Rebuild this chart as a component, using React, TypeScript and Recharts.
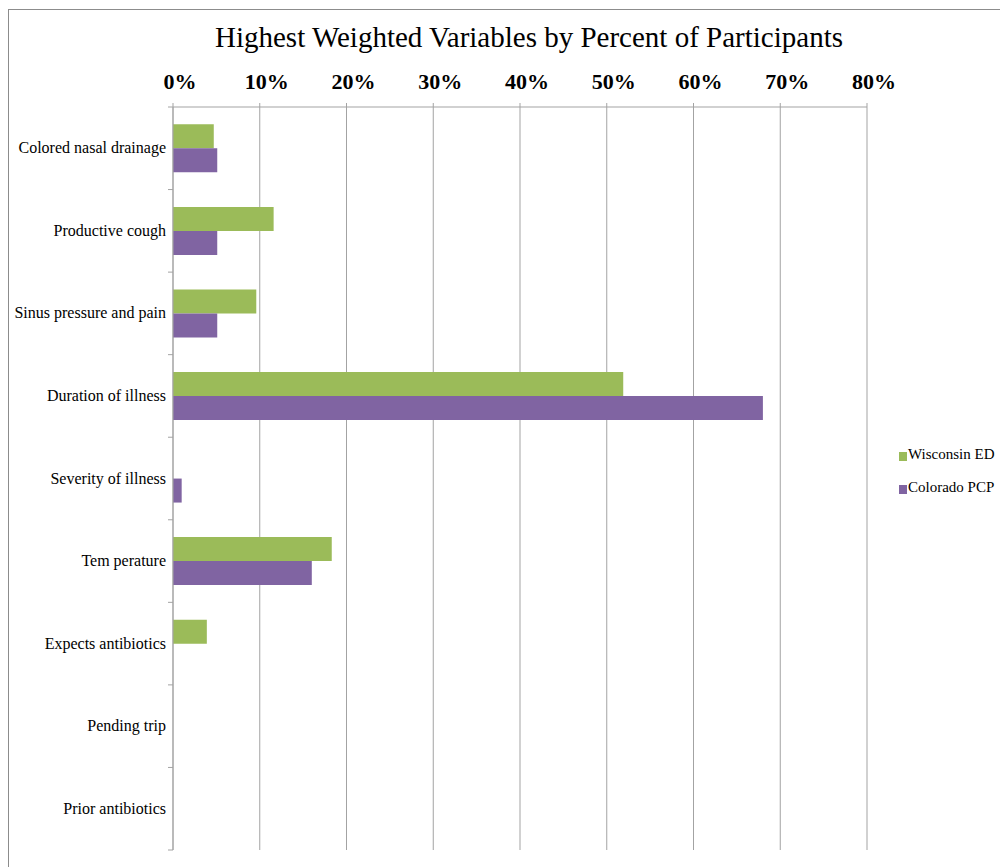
import { BarChart, Bar, XAxis, YAxis, CartesianGrid, Legend } from 'recharts'

const categories = [
  'Colored nasal drainage',
  'Productive cough',
  'Sinus pressure and pain',
  'Duration of illness',
  'Severity of illness',
  'Tem perature',
  'Expects antibiotics',
  'Pending trip',
  'Prior antibiotics',
]
const wisconsinED = [4.7, 11.6, 9.6, 51.9, 0, 18.3, 3.9, 0, 0]
const coloradoPCP = [5.1, 5.1, 5.1, 68.0, 1.0, 16.0, 0, 0, 0]
const xTicks = [0, 10, 20, 30, 40, 50, 60, 70, 80]
const seriesNames = ['Wisconsin ED', 'Colorado PCP']
const seriesColors = ['#9bbb59', '#8064a2']

const data = categories.map((name, i) => ({
  name,
  wisconsin: wisconsinED[i],
  colorado: coloradoPCP[i],
}))

const FONT = '"Liberation Serif", "Times New Roman", serif'
const GRAY = '#a3a3a3'
const CHART_W = 1060
const CHART_H = 900
const PLOT_LEFT = 164
const PLOT_TOP = 97
const PLOT_BOTTOM = 840
const AXIS_TOP_H = 40

function PercentTick({ x, y, payload }: any) {
  return (
    <text x={x + 7} y={y - 12} textAnchor='middle' fontFamily={FONT} fontSize={22} fontWeight='bold' fill='#000'>
      {payload.value}%
    </text>
  )
}

function CategoryTick({ y, payload, index }: any) {
  const half = payload.offset ?? (PLOT_BOTTOM - PLOT_TOP) / categories.length / 2
  const last = index === categories.length - 1
  return (
    <g>
      <text x={PLOT_LEFT - 7} y={y + 5} textAnchor='end' fontFamily={FONT} fontSize={16} fill='#000'>
        {payload.value}
      </text>
      <line x1={PLOT_LEFT - 5} x2={PLOT_LEFT} y1={y - half} y2={y - half} stroke={GRAY} />
      {last && <line x1={PLOT_LEFT - 5} x2={PLOT_LEFT} y1={y + half} y2={y + half} stroke={GRAY} />}
    </g>
  )
}

// legend keeps the series order (Wisconsin on top)
function LegendBox() {
  return (
    <div style={{ fontFamily: FONT, fontSize: 15 }}>
      {seriesNames.map((name, i) => (
        <div key={name} style={{ display: 'flex', alignItems: 'flex-end', height: 33, whiteSpace: 'nowrap' }}>
          <span style={{ display: 'inline-block', width: 8, height: 9, background: seriesColors[i], marginRight: 1, marginBottom: 9 }} />
          <span style={{ lineHeight: '16px', marginBottom: 8 }}>{name}</span>
        </div>
      ))}
    </div>
  )
}

export default function App() {
  return (
    <div style={{ width: 1000, height: 867, overflow: 'hidden', position: 'relative', background: '#fff' }}>
      <style>{'html,body{margin:0;overflow:hidden}'}</style>
      <div
        style={{
          position: 'absolute',
          left: 8,
          top: 9,
          width: CHART_W,
          height: CHART_H,
          border: '1px solid #8c8c8c',
        }}
      >
        <div
          style={{
            position: 'absolute',
            left: 0,
            top: 13,
            width: 1040,
            textAlign: 'center',
            fontFamily: FONT,
            fontSize: 29,
            lineHeight: '29px',
            color: '#000',
          }}
        >
          Highest Weighted Variables by Percent of Participants
        </div>
        <BarChart
          width={CHART_W}
          height={CHART_H}
          layout='vertical'
          data={data}
          barCategoryGap='21%'
          barGap={0}
          margin={{ top: PLOT_TOP - AXIS_TOP_H, right: CHART_W - 858, bottom: CHART_H - PLOT_BOTTOM, left: 0 }}
        >
          <CartesianGrid horizontal={false} stroke={GRAY} />
          <XAxis
            type='number'
            orientation='top'
            domain={[0, 80]}
            ticks={xTicks}
            height={AXIS_TOP_H}
            tickSize={4}
            axisLine={{ stroke: GRAY }}
            tickLine={{ stroke: GRAY }}
            tick={<PercentTick />}
            interval={0}
          />
          <YAxis
            type='category'
            dataKey='name'
            width={PLOT_LEFT}
            axisLine={{ stroke: GRAY }}
            tickLine={false}
            tick={<CategoryTick />}
            interval={0}
          />
          <Legend
            layout='vertical'
            align='center'
            verticalAlign='middle'
            wrapperStyle={{ left: 890, top: 427, width: 100 }}
            content={<LegendBox />}
          />
          <Bar dataKey='wisconsin' name={seriesNames[0]} fill={seriesColors[0]} isAnimationActive={false} />
          <Bar dataKey='colorado' name={seriesNames[1]} fill={seriesColors[1]} isAnimationActive={false} />
        </BarChart>
      </div>
    </div>
  )
}
